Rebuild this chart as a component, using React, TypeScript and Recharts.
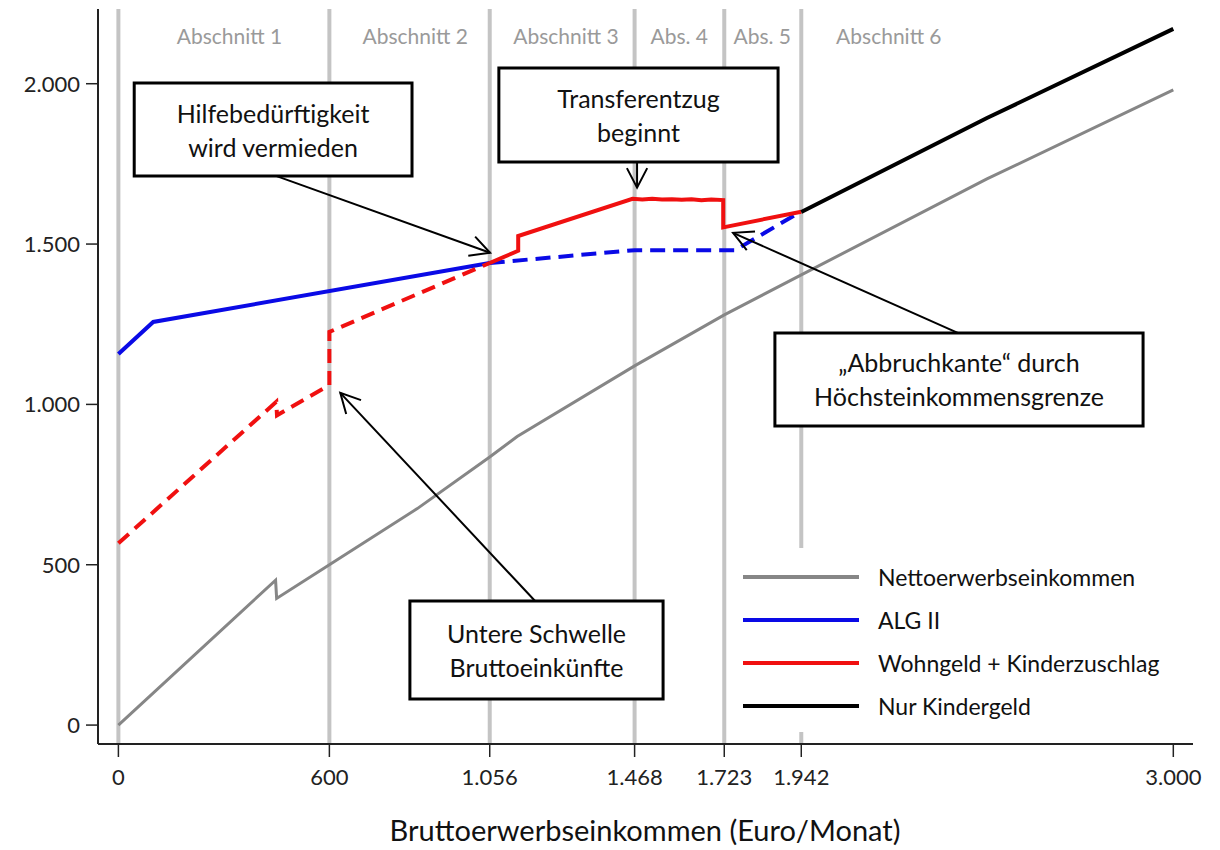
import { LineChart, Line, XAxis, YAxis, ReferenceLine, ReferenceArea, ReferenceDot, Legend } from "recharts"

// x = Bruttoerwerbseinkommen (Euro/Monat), y = verfügbares Einkommen
const X_TICKS = [0, 600, 1056, 1468, 1723, 1942, 3000]
const Y_TICKS = [0, 500, 1000, 1500, 2000]
const SECTION_BOUNDS = [0, 600, 1056, 1468, 1723, 1942]
const SECTION_LABELS = ["Abschnitt 1", "Abschnitt 2", "Abschnitt 3", "Abs. 4", "Abs. 5", "Abschnitt 6"]
const SECTION_CENTERS = [316, 844, 1273, 1595, 1831, 2191]
const SECTION_LABEL_Y = 2146

const netIncome = [
  { x: 0, y: 0 },
  { x: 447, y: 452 },
  { x: 450, y: 395 },
  { x: 600, y: 500 },
  { x: 850, y: 675 },
  { x: 1056, y: 836 },
  { x: 1134, y: 900 },
  { x: 1468, y: 1120 },
  { x: 1723, y: 1279 },
  { x: 1942, y: 1404 },
  { x: 2470, y: 1703 },
  { x: 3000, y: 1981 },
]

const alg2Solid = [
  { x: 0, y: 1157 },
  { x: 99, y: 1257 },
  { x: 1056, y: 1441 },
]
const alg2Dashed = [
  { x: 1056, y: 1441 },
  { x: 1468, y: 1481 },
  { x: 1754, y: 1481 },
  { x: 1925, y: 1591 },
]

const wohngeldDashed = [
  { x: 0, y: 567 },
  { x: 449, y: 1008 },
  { x: 451, y: 966 },
  { x: 600, y: 1060 },
  { x: 600, y: 1226 },
  { x: 1056, y: 1441 },
]
const wohngeldSolid = [
  { x: 1056, y: 1441 },
  { x: 1137, y: 1479 },
  { x: 1137, y: 1525 },
  { x: 1462, y: 1641 },
  { x: 1490, y: 1639 },
  { x: 1518, y: 1641 },
  { x: 1546, y: 1639 },
  { x: 1574, y: 1640 },
  { x: 1602, y: 1638 },
  { x: 1630, y: 1640 },
  { x: 1658, y: 1637 },
  { x: 1686, y: 1639 },
  { x: 1720, y: 1637 },
  { x: 1720, y: 1552 },
  { x: 1942, y: 1601 },
]

const kindergeldOnly = [
  { x: 1942, y: 1600 },
  { x: 2470, y: 1893 },
  { x: 3000, y: 2171 },
]

const LEGEND_NAMES = ["Nettoerwerbseinkommen", "ALG II", "Wohngeld + Kinderzuschlag", "Nur Kindergeld"]
const LEGEND_COLORS = ["#868686", "#0a0ae6", "#f01010", "#000000"]

const NOTE_TEXT = [
  ["Hilfebedürftigkeit", "wird vermieden"],
  ["Transferentzug", "beginnt"],
  ["„Abbruchkante“ durch", "Höchsteinkommensgrenze"],
  ["Untere Schwelle", "Bruttoeinkünfte"],
]
const NOTE_BOX_X = [[45, 835], [1082, 1876], [1867, 2914], [829, 1549]]
const NOTE_BOX_Y = [[1712, 2002], [1756, 2049], [933, 1223], [81, 387]]
const NOTE_ARROW_FROM = [[450, 1712], [1475, 1756], [2387, 1223], [1185, 387]]
const NOTE_ARROW_TO = [[1057, 1473], [1475, 1676], [1748, 1535], [631, 1036]]

const FONT = "Lato, 'Open Sans', sans-serif"

const fmt = (v: number) => String(v).replace(/\B(?=(\d{3})+(?!\d))/g, ".")

function Arrow(p: any) {
  const { x1, y1, x2, y2 } = p
  const ang = Math.atan2(y2 - y1, x2 - x1)
  const len = 22
  const spread = 0.48
  const a = [x2 - len * Math.cos(ang - spread), y2 - len * Math.sin(ang - spread)]
  const b = [x2 - len * Math.cos(ang + spread), y2 - len * Math.sin(ang + spread)]
  return (
    <g>
      <line x1={x1} y1={y1} x2={x2} y2={y2} stroke="#000" strokeWidth={2} />
      <polyline points={`${a[0]},${a[1]} ${x2},${y2} ${b[0]},${b[1]}`} fill="none" stroke="#000" strokeWidth={2} />
    </g>
  )
}

function boxLabel(lines: string[]) {
  return (p: any) => {
    const vb = p.viewBox || {}
    const cx = vb.x + vb.width / 2
    const cy = vb.y + vb.height / 2
    return (
      <text x={cx} y={cy} textAnchor="middle" fontSize={25} fill="#111" fontFamily={FONT}>
        <tspan x={cx} y={cy - 17} dominantBaseline="central">{lines[0]}</tspan>
        <tspan x={cx} y={cy + 17} dominantBaseline="central">{lines[1]}</tspan>
      </text>
    )
  }
}

function LegendBox() {
  return (
    <div style={{ fontFamily: FONT, fontSize: 23, color: "#111" }}>
      {LEGEND_NAMES.map((name, i) => (
        <div key={name} style={{ display: "flex", alignItems: "center", height: 43 }}>
          <div style={{ width: 116, height: 4, background: LEGEND_COLORS[i], marginRight: 19 }} />
          <span>{name}</span>
        </div>
      ))}
    </div>
  )
}

export default function App() {
  return (
    <div style={{ position: "absolute", left: 0, top: 0, width: 1220, height: 850, background: "#fff", fontFamily: FONT }}>
      <LineChart width={1220} height={850} margin={{ top: 9, right: 27, bottom: 0, left: 38 }}>
        <XAxis
          type="number"
          dataKey="x"
          domain={[-58, 3056]}
          ticks={X_TICKS}
          tickFormatter={fmt}
          allowDataOverflow
          height={106}
          tickSize={13}
          tickMargin={12}
          axisLine={{ stroke: "#222", strokeWidth: 2 }}
          tickLine={{ stroke: "#222", strokeWidth: 1.5 }}
          tick={{ fontSize: 22, fill: "#222" }}
        />
        <YAxis
          type="number"
          domain={[-59, 2233]}
          ticks={Y_TICKS}
          tickFormatter={fmt}
          allowDataOverflow
          width={60}
          tickSize={12}
          tickMargin={6}
          axisLine={{ stroke: "#222", strokeWidth: 2 }}
          tickLine={{ stroke: "#222", strokeWidth: 1.5 }}
          tick={{ fontSize: 22, fill: "#222" }}
        />
        {SECTION_BOUNDS.map((b) => (
          <ReferenceLine key={b} x={b} stroke="#c4c4c4" strokeWidth={4} zIndex={50} />
        ))}
        {SECTION_LABELS.map((s, i) => (
          <ReferenceDot
            key={s}
            x={SECTION_CENTERS[i]}
            y={SECTION_LABEL_Y}
            r={0}
            fill="none"
            stroke="none"
            label={{ value: s, position: "center", fontSize: 21, fill: "#9a9a9a" }}
          />
        ))}
        <Line data={netIncome} dataKey="y" type="linear" stroke={LEGEND_COLORS[0]} strokeWidth={3} dot={false} activeDot={false} isAnimationActive={false} />
        <Line data={alg2Solid} dataKey="y" type="linear" stroke={LEGEND_COLORS[1]} strokeWidth={4} dot={false} activeDot={false} isAnimationActive={false} />
        <Line data={alg2Dashed} dataKey="y" type="linear" stroke={LEGEND_COLORS[1]} strokeWidth={4} strokeDasharray="15 8" dot={false} activeDot={false} isAnimationActive={false} />
        <Line data={wohngeldDashed} dataKey="y" type="linear" stroke={LEGEND_COLORS[2]} strokeWidth={4} strokeDasharray="14 8" dot={false} activeDot={false} isAnimationActive={false} />
        <Line data={wohngeldSolid} dataKey="y" type="linear" stroke={LEGEND_COLORS[2]} strokeWidth={4} dot={false} activeDot={false} isAnimationActive={false} />
        <Line data={kindergeldOnly} dataKey="y" type="linear" stroke={LEGEND_COLORS[3]} strokeWidth={4} dot={false} activeDot={false} isAnimationActive={false} />
        {NOTE_TEXT.map((t, i) => (
          <ReferenceArea
            key={t[0]}
            x1={NOTE_BOX_X[i][0]}
            x2={NOTE_BOX_X[i][1]}
            y1={NOTE_BOX_Y[i][0]}
            y2={NOTE_BOX_Y[i][1]}
            fill="#fff"
            fillOpacity={1}
            stroke="#000"
            strokeWidth={3}
            zIndex={450}
            label={boxLabel(t)}
          />
        ))}
        {NOTE_ARROW_FROM.map((f, i) => (
          <ReferenceLine
            key={i}
            segment={[
              { x: f[0], y: f[1] },
              { x: NOTE_ARROW_TO[i][0], y: NOTE_ARROW_TO[i][1] },
            ]}
            stroke="#000"
            zIndex={460}
            shape={Arrow}
          />
        ))}
        <Legend
          layout="horizontal"
          verticalAlign="middle"
          align="center"
          content={() => <LegendBox />}
          wrapperStyle={{ left: 737, top: 548, width: 450, height: 184, background: "#fff", paddingLeft: 6, paddingTop: 7, boxSizing: "border-box" }}
        />
      </LineChart>
      <div style={{ position: "absolute", left: 245, width: 800, top: 812, textAlign: "center", fontSize: 29, color: "#111" }}>
        Bruttoerwerbseinkommen (Euro/Monat)
      </div>
    </div>
  )
}
